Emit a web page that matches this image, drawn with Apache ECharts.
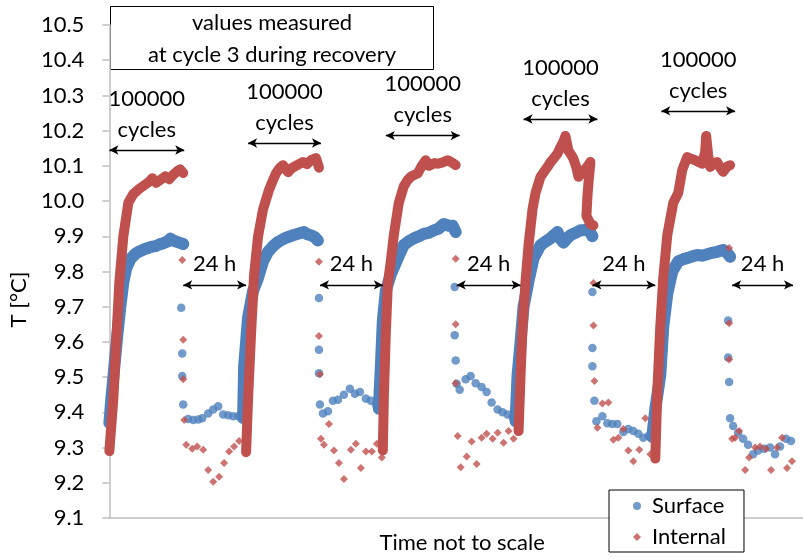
<!DOCTYPE html>
<html>
<head>
<meta charset="utf-8">
<script src="https://cdn.jsdelivr.net/npm/echarts@6/dist/echarts.min.js"></script>
<style>
  html, body { margin: 0; padding: 0; background: #fff; }
  #chart { width: 803px; height: 559px; }
</style>
</head>
<body>
<div id="chart"></div>
<script>
// Temperature during fatigue cycling (dense bands) and 24 h recovery (sparse points).
// Time axis is arbitrary ("not to scale"): t in relative units.

const yMin = 9.1, yMax = 10.5, yStep = 0.1;
const tMin = 0, tMax = 695;

// Surface temperature while cycling (100000 cycles per block)
const surfaceCycling1 = [[0,9.37],[2,9.44],[5,9.53],[8,9.62],[11,9.70],[14,9.77],[17,9.81],[21,9.835],[26,9.85],[30,9.857],[34,9.862],[38,9.866],[42,9.87],[46,9.872],[50,9.877],[54,9.88],[58,9.885],[61,9.893],[64,9.888],[67,9.885],[70,9.882],[74,9.878]];
const surfaceCycling2 = [[134,9.384],[135,9.53],[139,9.67],[144,9.745],[149,9.782],[154,9.829],[159,9.856],[164,9.872],[169,9.884],[174,9.892],[179,9.898],[184,9.903],[189,9.907],[195,9.912],[199,9.905],[202,9.903],[206,9.897],[209,9.888]];
const surfaceCycling3 = [[270,9.41],[272,9.53],[274,9.66],[277,9.745],[282,9.792],[289,9.838],[295,9.875],[300,9.886],[305,9.894],[310,9.9],[315,9.907],[320,9.91],[325,9.917],[330,9.922],[335,9.935],[340,9.93],[344,9.93],[347,9.912]];
const surfaceCycling4 = [[407,9.375],[409,9.505],[412,9.6],[415,9.70],[420,9.773],[425,9.838],[432,9.875],[437,9.885],[442,9.894],[446,9.905],[449,9.912],[452,9.893],[455,9.882],[459,9.895],[462,9.903],[467,9.91],[472,9.917],[476,9.918],[480,9.921],[484,9.9]];
const surfaceCycling5 = [[544,9.33],[547,9.41],[552,9.505],[555,9.644],[559,9.736],[564,9.80],[570,9.829],[575,9.835],[579,9.838],[584,9.843],[589,9.847],[594,9.845],[599,9.849],[604,9.853],[609,9.856],[615,9.861],[619,9.853],[622,9.842]];

// Internal temperature while cycling
const internalCycling1 = [[0,9.29],[4,9.44],[7,9.61],[10,9.77],[14,9.90],[19,9.995],[24,10.02],[30,10.035],[35,10.045],[40,10.055],[43,10.065],[47,10.052],[52,10.062],[56,10.07],[60,10.062],[64,10.075],[68,10.085],[71,10.09],[74,10.08]];
const internalCycling2 = [[137,9.287],[139,9.44],[142,9.625],[145,9.79],[149,9.90],[154,9.977],[160,10.032],[164,10.06],[167,10.079],[171,10.095],[174,10.102],[177,10.09],[179,10.082],[182,10.092],[185,10.097],[190,10.105],[194,10.111],[198,10.105],[202,10.116],[207,10.122],[210,10.095]];
const internalCycling3 = [[274,9.292],[275,9.44],[277,9.625],[279,9.764],[282,9.83],[285,9.903],[290,9.995],[295,10.042],[299,10.06],[302,10.069],[306,10.075],[309,10.079],[313,10.1],[317,10.116],[320,10.1],[322,10.097],[326,10.108],[329,10.106],[334,10.11],[339,10.116],[343,10.11],[347,10.102]];
const internalCycling4 = [[410,9.347],[412,9.505],[414,9.644],[417,9.773],[420,9.875],[424,9.977],[427,10.023],[432,10.069],[436,10.085],[439,10.097],[442,10.11],[445,10.12],[449,10.135],[452,10.153],[455,10.17],[457,10.185],[460,10.143],[463,10.13],[465,10.12],[468,10.095],[470,10.069],[473,10.078],[475,10.083],[479,10.098],[482,10.111],[480,10.05],[479,10.014],[478,9.958],[482,9.935],[485,9.931]];
const internalCycling5 = [[547,9.269],[549,9.458],[552,9.644],[555,9.782],[559,9.903],[565,9.995],[570,10.023],[574,10.088],[579,10.125],[583,10.12],[587,10.116],[591,10.11],[594,10.106],[597,10.14],[598,10.185],[600,10.13],[602,10.097],[605,10.105],[609,10.111],[612,10.095],[615,10.083],[619,10.098],[622,10.102]];

// Recovery readings (24 h after each block)
const surfaceRecovery = [
  [72,9.697],[73,9.567],[73,9.503],[74,9.422],[79,9.381],[84,9.378],[89,9.38],[93,9.383],[99,9.397],[104,9.408],[109,9.417],[114,9.394],[119,9.392],[124,9.389],[129,9.389],[133,9.383],
  [210,9.725],[210,9.578],[210,9.511],[211,9.422],[214,9.397],[219,9.403],[224,9.433],[229,9.436],[235,9.45],[241,9.467],[246,9.453],[251,9.458],[257,9.439],[262,9.433],[267,9.422],[270,9.411],
  [346,9.756],[346,9.619],[347,9.547],[348,9.481],[351,9.464],[357,9.494],[362,9.503],[367,9.483],[373,9.472],[378,9.458],[383,9.428],[389,9.408],[394,9.4],[399,9.394],[404,9.386],
  [484,9.742],[484,9.583],[484,9.531],[486,9.433],[488,9.375],[494,9.389],[499,9.369],[504,9.367],[509,9.367],[515,9.344],[520,9.353],[525,9.347],[530,9.339],[535,9.328],[540,9.333],
  [620,9.661],[620,9.556],[621,9.486],[622,9.383],[625,9.361],[630,9.342],[635,9.325],[640,9.308],[645,9.281],[650,9.292],[656,9.297],[662,9.3],[667,9.281],[672,9.303],[678,9.325],[683,9.319]
];
const internalRecovery = [
  [73,9.833],[74,9.606],[74,9.494],[75,9.378],[77,9.308],[83,9.297],[88,9.303],[94,9.294],[99,9.236],[104,9.203],[110,9.217],[115,9.256],[120,9.289],[125,9.303],[130,9.319],
  [210,9.828],[210,9.617],[211,9.508],[212,9.325],[215,9.308],[220,9.367],[225,9.292],[230,9.256],[235,9.211],[242,9.294],[247,9.311],[252,9.242],[257,9.289],[263,9.289],[268,9.311],[273,9.272],
  [347,9.836],[347,9.65],[347,9.483],[349,9.333],[352,9.244],[358,9.275],[363,9.317],[368,9.253],[373,9.328],[378,9.339],[384,9.325],[389,9.342],[395,9.314],[400,9.347],[405,9.325],
  [485,9.767],[485,9.647],[486,9.489],[489,9.356],[494,9.425],[500,9.428],[505,9.322],[510,9.328],[515,9.353],[520,9.292],[525,9.261],[531,9.294],[537,9.383],[542,9.281],
  [621,9.867],[621,9.653],[621,9.55],[624,9.325],[627,9.328],[631,9.347],[637,9.236],[641,9.272],[647,9.3],[652,9.303],[658,9.297],[663,9.236],[669,9.3],[674,9.328],[679,9.242],[684,9.261]
];

// Span annotations: [tStart, tEnd, level]
const cycleSpans = [[0,75,10.145],[139,212,10.165],[277,351,10.186],[415,489,10.233],[553,627,10.256]];
const recoverySpans = [[74,137,9.762],[211,274,9.762],[348,412,9.762],[484,547,9.762],[624,685,9.762]];
const cycleLabel = '100000\ncycles';
const recoveryLabel = '24 h';

const BLUE = '#4F81BD', RED = '#C0504D';
const FONT = 'Lato, "Open Sans", sans-serif';

const surfaceBlocks = [surfaceCycling1, surfaceCycling2, surfaceCycling3, surfaceCycling4, surfaceCycling5];
const internalBlocks = [internalCycling1, internalCycling2, internalCycling3, internalCycling4, internalCycling5];

function band(name, color, data, width, z) {
  return {
    name, type: 'line', data, color, z,
    showSymbol: false, symbol: 'none', smooth: false, clip: false,
    lineStyle: { color, width, cap: 'round', join: 'round' },
    silent: true, animation: false
  };
}

function spanLines(spans, text) {
  return spans.map(([a, b, v]) => [
    { coord: [a, v], name: text },
    { coord: [b, v] }
  ]);
}

// Scatter series first so the legend takes their marker shapes
const series = [
  { name: 'Surface', type: 'scatter', data: surfaceRecovery, color: BLUE, z: 2,
    symbol: 'circle', symbolSize: 8.5, itemStyle: { color: BLUE }, animation: false },
  { name: 'Internal', type: 'scatter', data: internalRecovery, color: RED, z: 4,
    symbol: 'diamond', symbolSize: 8, itemStyle: { color: RED }, animation: false }
];
surfaceBlocks.forEach(d => series.push(band('Surface', BLUE, d, 12, 2)));
internalBlocks.forEach(d => series.push(band('Internal', RED, d, 10, 3)));
series.push({
  name: 'spans', type: 'line', data: [], silent: true, animation: false, z: 5,
  markLine: {
    silent: true, animation: false,
    symbol: ['arrow', 'arrow'], symbolSize: [7, 9],
    lineStyle: { color: '#000', width: 1.3, type: 'solid' },
    label: {
      show: true, position: 'insideMiddleTop', distance: 5,
      formatter: p => p.name,
      color: '#000', fontSize: 22, lineHeight: 31, fontFamily: FONT
    },
    emphasis: { disabled: true },
    data: spanLines(cycleSpans, cycleLabel).concat(spanLines(recoverySpans, recoveryLabel))
  }
});

const chart = echarts.init(document.getElementById('chart'), null, { renderer: 'canvas' });
chart.setOption({
  animation: false,
  backgroundColor: '#fff',
  textStyle: { fontFamily: FONT },
  grid: { left: 108, right: 0, top: 25, bottom: 30, containLabel: false },
  xAxis: {
    type: 'value', min: tMin, max: tMax,
    name: 'Time not to scale', nameLocation: 'middle', nameGap: 14,
    nameTextStyle: { fontSize: 22, color: '#000', fontFamily: FONT, padding: [0, 0, 0, 12] },
    axisLine: { show: true, onZero: false, lineStyle: { color: '#bfbfbf', width: 1.5 } },
    axisTick: { show: false }, axisLabel: { show: false }, splitLine: { show: false }
  },
  yAxis: {
    type: 'value', min: yMin, max: yMax, interval: yStep,
    name: 'T [°C]', nameLocation: 'middle', nameGap: 72, nameRotate: 90,
    nameTextStyle: { fontSize: 22, color: '#000', fontFamily: FONT, padding: [0, 56, 0, 0] },
    axisLine: { show: true, lineStyle: { color: '#bfbfbf', width: 1.5 } },
    axisTick: { show: true, inside: false, length: 7, lineStyle: { color: '#bfbfbf', width: 1.5 } },
    axisLabel: { fontSize: 22, color: '#000', margin: 25, fontFamily: FONT, formatter: v => v.toFixed(1) },
    splitLine: { show: false }
  },
  legend: {
    orient: 'vertical', left: 609, top: 490,
    padding: [4, 18, 3, 24], itemGap: 7, itemWidth: 8, itemHeight: 8,
    backgroundColor: '#fff', borderColor: '#000', borderWidth: 1, borderRadius: 0,
    textStyle: { fontSize: 22, color: '#000', lineHeight: 24, fontFamily: FONT, padding: [0, 0, 0, 6] },
    data: [{ name: 'Surface', icon: 'circle' }, { name: 'Internal', icon: 'diamond' }],
    selectedMode: false
  },
  graphic: [{
    type: 'group', left: 110, top: 6,
    children: [
      { type: 'rect', shape: { x: 0, y: 0, width: 323, height: 63 },
        style: { fill: '#fff', stroke: '#000', lineWidth: 1 } },
      { type: 'text', x: 161.5, y: 32,
        style: { text: 'values measured\nat cycle 3 during recovery', align: 'center', verticalAlign: 'middle',
                 fontSize: 22, lineHeight: 32, fill: '#000', fontFamily: FONT } }
    ]
  }],
  series
});
</script>
</body>
</html>
